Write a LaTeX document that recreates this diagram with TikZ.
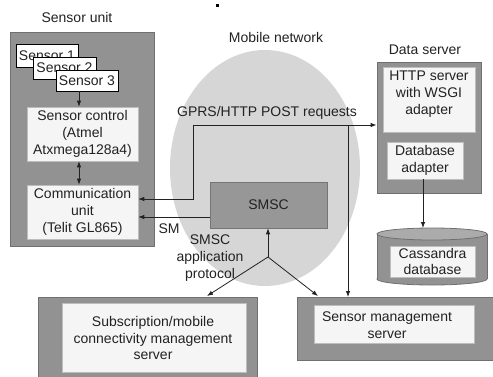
\documentclass[tikz,border=0pt]{standalone}
\usepackage{fontspec}
\setmainfont{Liberation Sans}
\usetikzlibrary{arrows.meta}
\definecolor{outerg}{HTML}{929292}
\definecolor{outerb}{HTML}{707070}
\definecolor{innerg}{HTML}{F5F5F5}
\definecolor{innerb}{HTML}{BDBDBD}
\definecolor{cloudg}{HTML}{D6D6D6}
\definecolor{cyltopg}{HTML}{ABABAB}
\definecolor{ink}{HTML}{222222}
\begin{document}
\begin{tikzpicture}[x=1pt,y=-1pt,
  font=\fontsize{14}{16.7}\selectfont,
  every node/.style={text=ink, inner sep=0pt, align=center},
  outerbox/.style={draw=outerb, fill=outerg, line width=0.8pt},
  innerbox/.style={draw=innerb, fill=innerg, line width=0.6pt},
  sensbox/.style={draw=black, fill=white, line width=0.8pt},
  arr/.style={draw=ink, line width=0.8pt, -{Latex[length=6pt,width=4.5pt]}},
  darr/.style={draw=ink, line width=0.8pt, {Latex[length=6pt,width=4.5pt]}-{Latex[length=6pt,width=4.5pt]}},
  plain/.style={draw=ink, line width=0.8pt}]
\useasboundingbox (0,0) rectangle (493,376);
\clip (0,0) rectangle (493,376);

% mobile network cloud
\fill[cloudg] (265,168) ellipse [x radius=95, y radius=118];
\node (mnlabel) at (276,37) {Mobile network};
\fill[black] (215.5,3.5) rectangle (218.5,6.5);

% sensor unit
\node (sulabel) at (77,17) {Sensor unit};
\node[outerbox, minimum width=144pt, minimum height=214pt] (su) at (82,139) {};
\node[sensbox, minimum width=62pt, minimum height=23pt] (s1) at (47,55.5) {Sensor 1};
\node[sensbox, minimum width=63pt, minimum height=22pt] (s2) at (64.5,68) {Sensor 2};
\node[sensbox, minimum width=62pt, minimum height=21pt] (s3) at (87,80.5) {Sensor 3};
\node[innerbox, minimum width=111pt, minimum height=54pt] (sc) at (82.5,134) {Sensor control\\(Atmel\\Atxmega128a4)};
\node[innerbox, minimum width=111pt, minimum height=54pt] (cu) at (82.5,212) {Communication\\unit\\(Telit GL865)};
\coordinate (xs) at (79,0);
\draw[arr] (s3.south -| xs) -- (sc.north -| xs);
\draw[darr] (sc.south -| xs) -- (cu.north -| xs);

% SMSC
\node[draw=outerg!80!black, fill=outerg!95!white, line width=0.6pt, minimum width=117pt, minimum height=46pt] (smsc) at (268.5,205) {SMSC};

% data server
\node (dslabel) at (425,50) {Data server};
\node[outerbox, minimum width=104pt, minimum height=131pt] (ds) at (429,127.5) {};
\node[innerbox, minimum width=92pt, minimum height=65pt] (http) at (429,99.5) {};
\node (httptext) at (429,94) {HTTP server\\with WSGI\\adapter};
\node[innerbox, minimum width=76pt, minimum height=37pt] (dba) at (425,160.5) {Database\\adapter};

% Cassandra cylinder
\filldraw[fill=outerg, draw=outerb, line width=0.8pt] (432,279) ellipse [x radius=55, y radius=6];
\fill[outerg] (377,234) rectangle (487,279);
\draw[outerb, line width=0.8pt] (377,234) -- (377,279) (487,234) -- (487,279);
\filldraw[fill=cyltopg, draw=outerb, line width=0.8pt] (432,234) ellipse [x radius=55, y radius=6];
\coordinate (cyltop) at (432,228);
\node[innerbox, minimum width=85pt, minimum height=31pt] (cass) at (432.5,261.5) {Cassandra\\database};
\draw[arr] (dba.south -| 423,0) -- (cyltop -| 423,0);

% bottom servers
\node[outerbox, anchor=north west, minimum width=219pt, minimum height=100pt] (subo) at (38,297) {};
\node[innerbox, minimum width=184pt, minimum height=69pt] (sub) at (154,337.5) {};
\node (subtext) at (153,338) {Subscription/mobile\\connectivity management\\server};
\node[outerbox, anchor=north west, minimum width=205pt, minimum height=63pt] (smo) at (297,297) {};
\node[innerbox, minimum width=160pt, minimum height=38pt] (sm) at (394,324) {};
\node (smtext) at (387,325) {Sensor management\\server};

% GPRS connection
\coordinate (g1) at (193,199);
\coordinate (g2) at (193,125);
\coordinate (br) at (348,125);
\draw[darr] (cu.east |- g1) -- (g1) -- (g2) -- (ds.west |- g2);
\node (gprs) at (267,113) {GPRS/HTTP POST requests};
\draw[arr] (br) -- (smo.north -| br);

% SM
\coordinate (smy) at (0,217);
\draw[arr] (smsc.west |- smy) -- (cu.east |- smy);
\node (smlabel) at (169,229) {SM};

% SMSC application protocol
\coordinate (j) at (268,257);
\draw[arr] (j) -- (smsc.south -| j);
\coordinate (pa) at (207,296);
\coordinate (pb) at (318,296);
\draw[arr] (j) -- (pa);
\draw[arr] (j) -- (pb);
\node (proto) at (210,258) {SMSC\\application\\protocol};
\end{tikzpicture}
\end{document}
